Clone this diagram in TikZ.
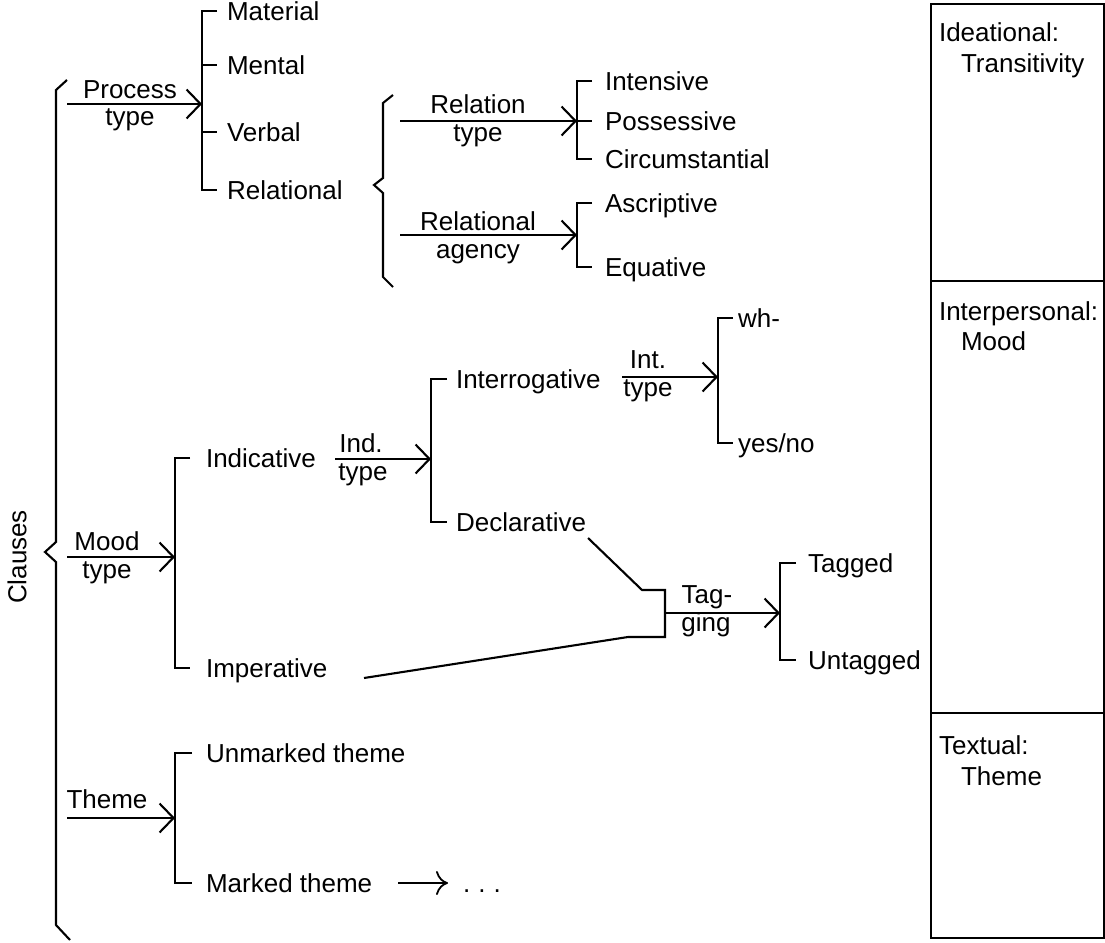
\documentclass[tikz,border=0pt]{standalone}
\usepackage{fontspec}
\setmainfont{Liberation Sans}
\usetikzlibrary{arrows.meta}
\begin{document}
\begin{tikzpicture}[x=1pt,y=-1pt,line width=2.1pt,
  txt/.style={inner sep=0pt,font=\fontsize{26}{31}\selectfont},
  opt/.style={txt,text height=19pt,text depth=0pt,anchor=west},
  stk/.style={txt,anchor=base},
  capw/.style={txt,anchor=base west},
  sysarrow/.style={-{Straight Barb[length=14pt,width=29pt]}},
  thenarrow/.style={-{To[length=12pt,width=24pt]}},
  cell/.style={draw,minimum width=173pt,inner sep=0pt,anchor=north west}
]
\useasboundingbox (0,0) rectangle (1105,942);

% ---------- Clauses brace ----------
\node[txt,rotate=90] (clauses) at (17,557) {Clauses};
\draw (67,80) -- (56,90) -- (56,542) -- (45,552) -- (56,562) -- (56,925) -- (70,940);

% ---------- Process type ----------
\coordinate (pt-in) at (67,104);
\coordinate (pt-hd) at (202,104);
\node[stk] (pt1) at (130,98) {Process};
\node[stk] (pt2) at (130,125) {type};
\node[opt] (mat) at (226,11) {Material};
\node[opt] (men) at (226,65) {Mental};
\node[opt] (verb) at (226,132) {Verbal};
\node[opt] (relnl) at (226,190) {Relational};
\draw[sysarrow] (pt-in) -- (pt-hd);
\draw ([xshift=-9pt]mat.west) -| ([xshift=-24pt]relnl.west) -- ([xshift=-9pt]relnl.west);
\draw ([xshift=-24pt]men.west) -- ([xshift=-9pt]men.west);
\draw ([xshift=-24pt]verb.west) -- ([xshift=-9pt]verb.west);

% ---------- Relational sub-systems ----------
\draw (393,95) -- (383,103) -- (383,178) -- (374,185) -- (383,193) -- (383,277) -- (393,287);

\coordinate (rt-in) at (400,121);
\coordinate (rt-hd) at (577,121);
\node[stk] (rt1) at (478,113) {Relation};
\node[stk] (rt2) at (478,141) {type};
\node[opt] (intens) at (604,81) {Intensive};
\node[opt] (poss) at (604,121) {Possessive};
\node[opt] (circ) at (604,159) {Circumstantial};
\draw[sysarrow] (rt-in) -- (rt-hd);
\draw ([xshift=-12pt]intens.west) -| ([xshift=-27pt]circ.west) -- ([xshift=-12pt]circ.west);
\draw ([xshift=-27pt]poss.west) -- ([xshift=-12pt]poss.west);

\coordinate (ra-in) at (400,235);
\coordinate (ra-hd) at (577,235);
\node[stk] (ra1) at (478,230) {Relational};
\node[stk] (ra2) at (478,258) {agency};
\node[opt] (ascr) at (604,203) {Ascriptive};
\node[opt] (equa) at (604,267) {Equative};
\draw[sysarrow] (ra-in) -- (ra-hd);
\draw ([xshift=-12pt]ascr.west) -| ([xshift=-27pt]equa.west) -- ([xshift=-12pt]equa.west);

% ---------- Mood type ----------
\coordinate (md-in) at (67,557);
\coordinate (md-hd) at (175,557);
\node[stk] (md1) at (107,550) {Mood};
\node[stk] (md2) at (107,578) {type};
\node[opt] (indic) at (205,458) {Indicative};
\node[opt] (imper) at (205,668) {Imperative};
\draw[sysarrow] (md-in) -- (md-hd);
\draw ([xshift=-15pt]indic.west) -| ([xshift=-30pt]imper.west) -- ([xshift=-15pt]imper.west);

% Indicative type
\coordinate (it-in) at (335,459);
\coordinate (it-hd) at (431,459);
\node[stk] (it1) at (361,452) {Ind.};
\node[stk] (it2) at (363,480) {type};
\node[opt] (inter) at (455,379) {Interrogative};
\node[opt] (decl) at (455,522) {Declarative};
\draw[sysarrow] (it-in) -- (it-hd);
\draw ([xshift=-8pt]inter.west) -| ([xshift=-24pt]decl.west) -- ([xshift=-8pt]decl.west);

% Interrogative type
\coordinate (nt-in) at (622,377);
\coordinate (nt-hd) at (718,377);
\node[stk] (nt1) at (648,368) {Int.};
\node[stk] (nt2) at (648,396) {type};
\node[opt] (wh) at (737,318) {wh-};
\node[opt] (yn) at (737,443) {yes/no};
\draw[sysarrow] (nt-in) -- (nt-hd);
\draw ([xshift=-4pt]wh.west) -| ([xshift=-19pt]yn.west) -- ([xshift=-4pt]yn.west);

% Tagging: entered from Declarative and Imperative
\coordinate (dec-out) at (588,538);
\coordinate (imp-out) at (364,678);
\coordinate (jn1) at (642,590);
\coordinate (jn2) at (665,590);
\coordinate (jn3) at (665,637);
\coordinate (jn4) at (628,637);
\draw (dec-out) -- (jn1) -- (jn2) -- (jn3) -- (jn4) -- (imp-out);

\coordinate (tg-in) at (665,613);
\coordinate (tg-hd) at (780,613);
\node[stk] (tg1) at (707,603) {Tag-};
\node[stk] (tg2) at (706,631) {ging};
\node[opt] (tagd) at (807,563) {Tagged};
\node[opt] (untg) at (807,660) {Untagged};
\draw[sysarrow] (tg-in) -- (tg-hd);
\draw ([xshift=-11pt]tagd.west) -| ([xshift=-27pt]untg.west) -- ([xshift=-11pt]untg.west);

% ---------- Theme ----------
\coordinate (th-in) at (67,818);
\coordinate (th-hd) at (175,818);
\node[stk] (th1) at (107,808) {Theme};
\node[opt] (unmk) at (205,753) {Unmarked theme};
\node[opt] (mark) at (205,883) {Marked theme};
\draw[sysarrow] (th-in) -- (th-hd);
\draw ([xshift=-13pt]unmk.west) -| ([xshift=-30pt]mark.west) -- ([xshift=-13pt]mark.west);

\coordinate (mk-out) at (398,883);
\coordinate (more-in) at (448,883);
\node[capw] (more) at (462,892) {.\hspace{8pt}.\hspace{8pt}.};
\draw[thenarrow,line width=1.8pt] (mk-out) -- (more-in);

% ---------- Metafunction columns ----------
\node[cell,minimum height=277pt] (ideat) at (930,3) {};
\node[cell,minimum height=432pt] (inter-p) at (930,280) {};
\node[cell,minimum height=225pt] (textl) at (930,712) {};
\node[capw] (ideat1) at (938,42) {Ideational:};
\node[capw] (ideat2) at (960,73) {Transitivity};
\node[capw] (ip1) at (938,320) {Interpersonal:};
\node[capw] (ip2) at (960,350) {Mood};
\node[capw] (tx1) at (938,754) {Textual:};
\node[capw] (tx2) at (960,785) {Theme};
\end{tikzpicture}
\end{document}
